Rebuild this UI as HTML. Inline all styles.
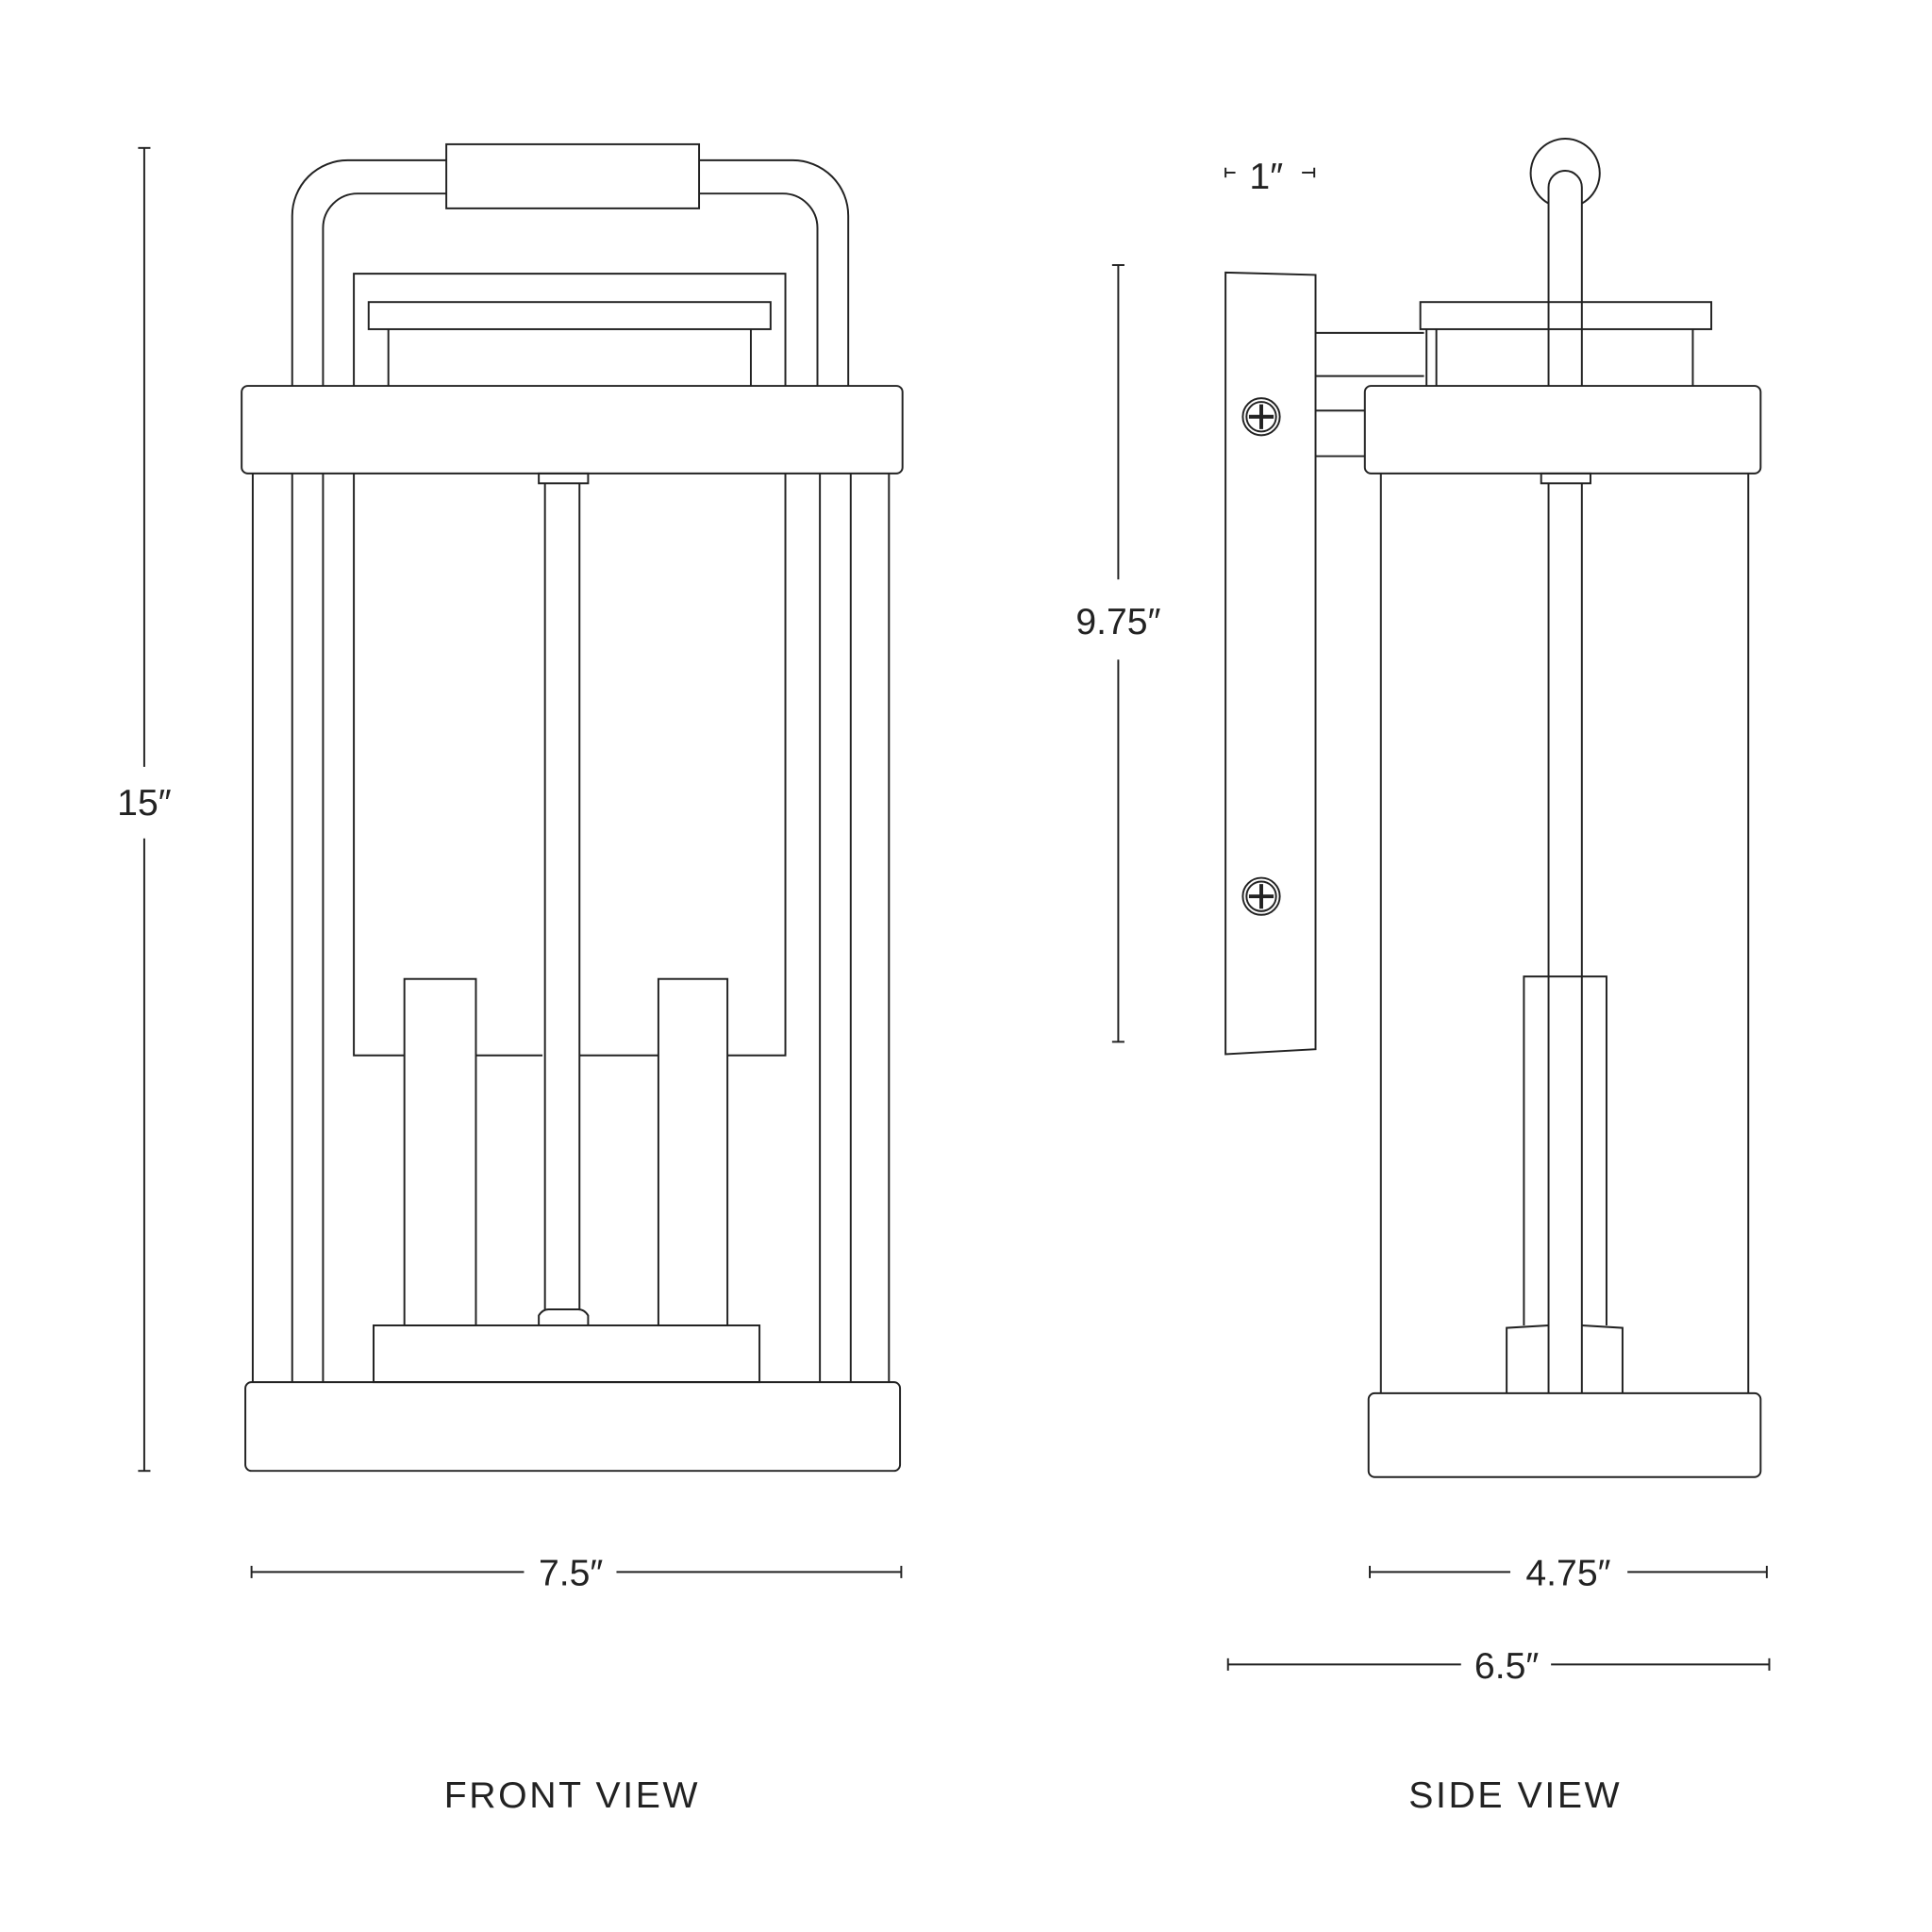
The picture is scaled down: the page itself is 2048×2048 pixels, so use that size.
<!DOCTYPE html>
<html><head><meta charset="utf-8"><style>html,body{margin:0;padding:0;background:#fff}svg{display:block}</style></head>
<body>
<svg width="2048" height="2048" viewBox="0 0 1567 1567" xmlns="http://www.w3.org/2000/svg">
<g fill="none" stroke="#222" stroke-width="1.5">
<!-- FRONT VIEW -->
<line x1="117" y1="120" x2="117" y2="622"/><line x1="117" y1="680" x2="117" y2="1193"/>
<line x1="112" y1="120" x2="122" y2="120"/><line x1="112" y1="1193" x2="122" y2="1193"/>
<path d="M237 313 V175 A45 45 0 0 1 282 130 H362 M567 130 H643 A45 45 0 0 1 688 175 V313"/>
<path d="M262 313 V185 A28 28 0 0 1 290 157 H362 M567 157 H635 A28 28 0 0 1 663 185 V313"/>
<rect x="362" y="117" width="205" height="52"/>
<path d="M287 313 V222 H637 V313"/>
<rect x="299" y="245" width="326" height="22"/>
<line x1="315" y1="267" x2="315" y2="313"/><line x1="609" y1="267" x2="609" y2="313"/>
<rect x="196" y="313" width="536" height="71" rx="5"/>
<line x1="205" y1="384" x2="205" y2="1121"/><line x1="237" y1="384" x2="237" y2="1121"/><line x1="262" y1="384" x2="262" y2="1121"/>
<line x1="665" y1="384" x2="665" y2="1121"/><line x1="690" y1="384" x2="690" y2="1121"/><line x1="721" y1="384" x2="721" y2="1121"/>
<path d="M287 384 V856 H328 M386 856 H440 M470 856 H534 M590 856 H637 V384"/>
<rect x="437" y="384" width="40" height="8"/>
<line x1="442" y1="392" x2="442" y2="1062"/><line x1="470" y1="392" x2="470" y2="1062"/>
<path d="M437 1075 V1067 Q440 1062 445 1062 H469 Q474 1062 477 1067 V1075"/>
<rect x="328" y="794" width="58" height="281"/><rect x="534" y="794" width="56" height="281"/>
<rect x="303" y="1075" width="313" height="46"/>
<rect x="199" y="1121" width="531" height="72" rx="5"/>
<line x1="204" y1="1275" x2="425" y2="1275"/><line x1="500" y1="1275" x2="731" y2="1275"/>
<line x1="204" y1="1270" x2="204" y2="1280"/><line x1="731" y1="1270" x2="731" y2="1280"/>
<!-- SIDE VIEW -->
<line x1="994" y1="140" x2="1002" y2="140"/><line x1="994" y1="136" x2="994" y2="144"/>
<line x1="1056" y1="140" x2="1066" y2="140"/><line x1="1066" y1="136" x2="1066" y2="144"/>
<line x1="907" y1="215" x2="907" y2="470"/><line x1="907" y1="535" x2="907" y2="845"/>
<line x1="902" y1="215" x2="912" y2="215"/><line x1="902" y1="845" x2="912" y2="845"/>
<polygon points="994,221 1067,223 1067,851 994,855"/>
<circle cx="1023" cy="338" r="15"/><circle cx="1023" cy="338" r="12"/>
<circle cx="1023" cy="727" r="15"/><circle cx="1023" cy="727" r="12"/>
<path d="M1013 338 H1033 M1023 328 V348" stroke-width="3"/>
<path d="M1013 727 H1033 M1023 717 V737" stroke-width="3"/>
<line x1="1067" y1="270" x2="1155" y2="270"/><line x1="1067" y1="305" x2="1155" y2="305"/>
<line x1="1067" y1="333" x2="1107" y2="333"/><line x1="1067" y1="370" x2="1107" y2="370"/>
<rect x="1152" y="245" width="236" height="22"/>
<line x1="1157" y1="267" x2="1157" y2="313"/><line x1="1165" y1="267" x2="1165" y2="313"/><line x1="1373" y1="267" x2="1373" y2="313"/>
<path d="M1256 165 A28 28 0 1 1 1283 165"/>
<path d="M1256 313 V152 A13.5 13.5 0 0 1 1283 152 V313"/>
<rect x="1107" y="313" width="321" height="71" rx="5"/>
<line x1="1120" y1="384" x2="1120" y2="1130"/><line x1="1418" y1="384" x2="1418" y2="1130"/>
<rect x="1250" y="384" width="40" height="8"/>
<line x1="1256" y1="392" x2="1256" y2="1130"/><line x1="1283" y1="392" x2="1283" y2="1130"/>
<path d="M1236 1075 V792 H1303 V1075"/>
<path d="M1222 1130 V1077 L1256 1075 M1283 1075 L1316 1077 V1130"/>
<rect x="1110" y="1130" width="318" height="68" rx="5"/>
<line x1="1111" y1="1275" x2="1225" y2="1275"/><line x1="1320" y1="1275" x2="1433" y2="1275"/>
<line x1="1111" y1="1270" x2="1111" y2="1280"/><line x1="1433" y1="1270" x2="1433" y2="1280"/>
<line x1="996" y1="1350" x2="1185" y2="1350"/><line x1="1258" y1="1350" x2="1435" y2="1350"/>
<line x1="996" y1="1345" x2="996" y2="1355"/><line x1="1435" y1="1345" x2="1435" y2="1355"/>
</g>
<g font-family="Liberation Sans, sans-serif" fill="#222" text-anchor="middle">
<text x="117" y="661" font-size="30">15″</text>
<text x="463" y="1286" font-size="30">7.5″</text>
<text x="1027" y="153" font-size="30">1″</text>
<text x="907" y="514" font-size="30">9.75″</text>
<text x="1272" y="1286" font-size="30">4.75″</text>
<text x="1222" y="1361" font-size="30">6.5″</text>
<text x="464" y="1466" font-size="30" letter-spacing="2">FRONT VIEW</text>
<text x="1229" y="1466" font-size="30" letter-spacing="2">SIDE VIEW</text>
</g>
</svg>
</body></html>
